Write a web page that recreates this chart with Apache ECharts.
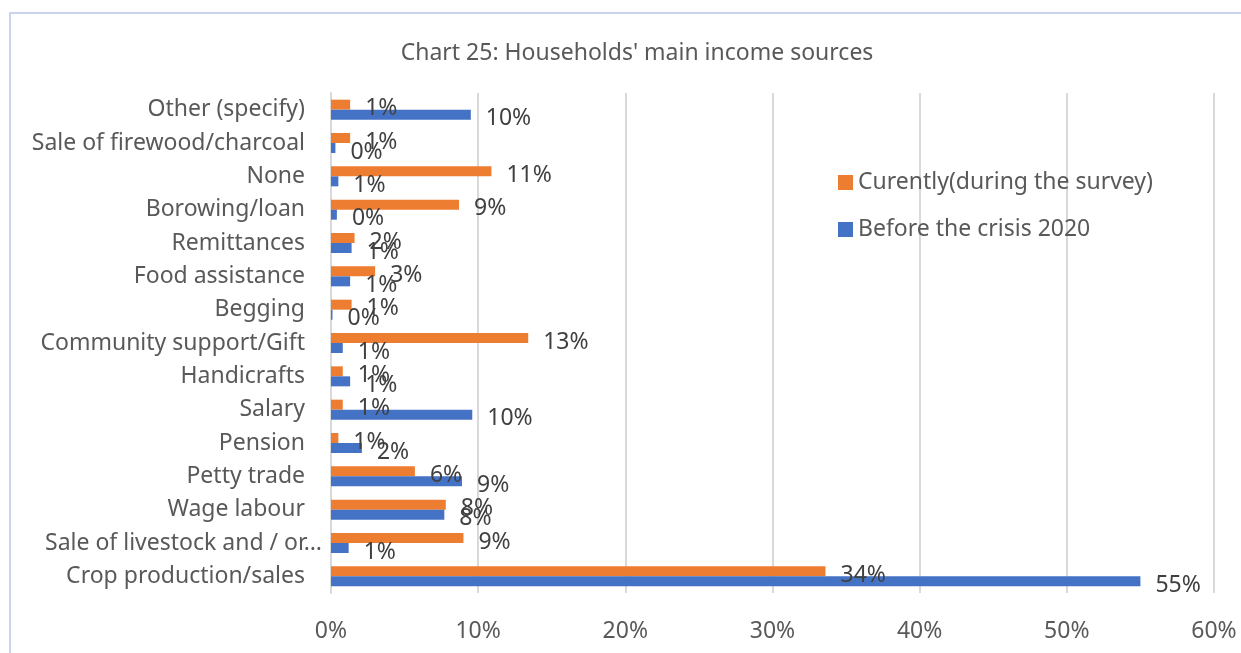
<!DOCTYPE html>
<html>
<head>
<meta charset="utf-8">
<title>Chart 25</title>
<script src="https://cdn.jsdelivr.net/npm/echarts@6/dist/echarts.min.js"></script>
<style>
    html, body { margin: 0; padding: 0; background: #fff; }
    #container { width: 1241px; height: 653px; }
</style>
</head>
<body>
<div id="container"></div>
<script>
// categories, bottom to top (as the y axis draws them)
var Categories = ['Crop production/sales', 'Sale of livestock and / or\u2026', 'Wage labour', 'Petty trade', 'Pension',
    'Salary', 'Handicrafts', 'Community support/Gift', 'Begging', 'Food assistance', 'Remittances',
    'Borowing/loan', 'None', 'Sale of firewood/charcoal', 'Other (specify)'];
// percent of households
var Currently = [33.6, 9.0, 7.8, 5.7, 0.5, 0.8, 0.8, 13.4, 1.4, 3.0, 1.6, 8.7, 10.9, 1.3, 1.3];
var Before = [55.0, 1.2, 7.7, 8.9, 2.1, 9.6, 1.3, 0.8, 0.1, 1.3, 1.4, 0.4, 0.5, 0.3, 9.5];
var SeriesNames = ['Curently(during the survey)', 'Before the crisis 2020'];
var XTicks = [0, 10, 20, 30, 40, 50, 60];

var fontName = 'Noto Sans';
var dom = document.getElementById("container");
var myChart = echarts.init(dom);
var option = null;

function barLabel() {
    return {
        show: true,
        position: 'right',
        distance: 15,
        offset: [0, 4], // excel draws them a little low
        color: '#404040',
        fontSize: 23,
        fontFamily: fontName,
        formatter: function (p) {
            return Math.round(p.value) + '%';
        }
    };
}

option = {
    backgroundColor: '#ffffff',
    animation: false,
    title: {
        text: "Chart 25: Households' main income sources",
        left: 632,
        top: 37,
        textAlign: 'center',
        textStyle: {
            color: '#595959',
            fontSize: 23,
            fontWeight: 'normal',
            fontFamily: fontName
        }
    },
    legend: {
        data: SeriesNames,
        orient: 'vertical',
        left: 833,
        top: 166,
        itemWidth: 15,
        itemHeight: 15,
        itemGap: 24,
        icon: 'rect',
        textStyle: {
            color: '#595959',
            fontSize: 23,
            fontFamily: fontName
        }
    },
    grid: {
        left: 331,
        right: 27,
        top: 93,
        bottom: 60,
        containLabel: false
    },
    xAxis: {
        type: 'value',
        min: XTicks[0],
        max: XTicks[XTicks.length - 1],
        interval: 10,
        axisLine: { show: false },
        axisTick: { show: false },
        splitLine: { lineStyle: { color: '#d9d9d9', width: 2 } },
        axisLabel: {
            margin: 27,
            color: '#595959',
            fontSize: 23,
            fontFamily: fontName,
            formatter: '{value}%'
        }
    },
    yAxis: {
        type: 'category',
        data: Categories,
        axisLine: { show: true, lineStyle: { color: '#d9d9d9', width: 2 } },
        axisTick: { show: false },
        axisLabel: {
            margin: 26,
            color: '#595959',
            fontSize: 23,
            fontFamily: fontName,
            formatter: function (v) {
                // the cut-off label runs closer to the axis in the original
                if (v.indexOf('\u2026') != -1) {
                    return '{lv|' + v + '}';
                }
                return v;
            },
            rich: {
                lv: {
                    color: '#595959',
                    fontSize: 23,
                    fontFamily: fontName,
                    padding: [0, -17, 0, 0]
                }
            }
        }
    },
    series: [
        {
            name: SeriesNames[0],
            type: 'bar',
            data: Currently,
            barWidth: 10,
            barGap: '0%',
            itemStyle: { color: '#ED7D31' },
            label: barLabel()
        },
        {
            name: SeriesNames[1],
            type: 'bar',
            data: Before,
            barWidth: 10,
            barGap: '0%',
            itemStyle: { color: '#4472C4' },
            label: barLabel()
        }
    ],
    graphic: [
        { // frame of the chart box
            type: 'polyline',
            shape: { points: [[10, 653], [10, 13], [1241, 13]] },
            style: { stroke: '#c9d3ee', lineWidth: 2, fill: null }
        }
    ]
};
if (option && typeof option === "object") {
    myChart.setOption(option, true);
}
</script>
</body>
</html>
